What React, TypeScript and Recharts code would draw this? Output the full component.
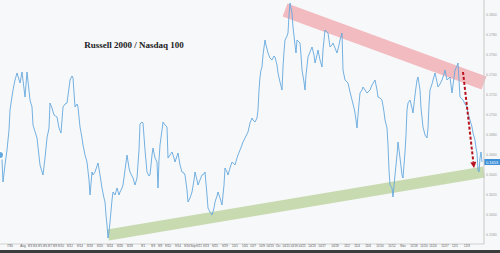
import React from "react";
import { LineChart, Line, XAxis, YAxis, ReferenceLine } from "recharts";

// trading-session index along the time axis
const sessions = [
  0, 2, 3, 5, 7, 9, 10, 13, 15, 17, 20, 22, 25, 27, 30, 32, 33, 37, 40, 43, 45, 47, 49, 50, 52, 54, 57, 59, 61, 63,
  65, 67, 69, 70, 72, 73, 75, 77, 78, 80, 82, 83, 85, 87, 89, 90, 92, 93, 95, 97, 98, 100, 102, 104, 105, 106, 107,
  108, 109, 110, 112, 113, 115, 117, 119, 120, 122, 123, 125, 127, 129, 130, 132, 133, 135, 137, 139, 140, 142, 143,
  145, 147, 149, 150, 152, 153, 155, 157, 158, 159, 160, 162, 163, 165, 167, 168, 170, 172, 174, 175, 177, 178, 180,
  182, 184, 185, 187, 188, 190, 192, 194, 195, 197, 198, 200, 202, 204, 205, 207, 208, 210, 212, 214, 215, 217, 218,
  220, 222, 224, 225, 227, 228, 230, 232, 234, 235, 237, 238, 240, 242, 243, 245, 247, 248, 250, 252, 253, 255, 257,
  258, 259, 260, 261, 262, 263, 265, 266, 268, 270, 272, 274, 275, 277, 278, 280, 282, 283, 284, 285, 287, 288, 289,
  290, 291, 292, 293, 295, 296, 297, 299, 300, 301, 302, 304, 305, 306, 308, 310, 312, 314, 315, 317, 318, 320, 322,
  323, 325, 327, 328, 330, 332, 333, 335, 337, 339, 340, 342, 343, 345, 347, 348, 350, 352, 354, 355, 356, 357, 358,
  360, 362, 363, 365, 367, 369, 370, 372, 375, 377, 378, 380, 382, 384, 385, 387, 388, 389, 390, 392, 393, 395, 397,
  398, 399, 400, 402, 403, 404, 405, 406, 407, 408, 410, 412, 413, 415, 417, 418, 420, 421, 423, 425, 427, 428, 429,
  430, 432, 433, 435, 437, 438, 440, 442, 444, 445, 447, 449, 450, 452, 453, 455, 457, 458, 459, 460, 462, 463, 465,
  467, 468, 470, 472, 473, 475, 476, 477, 478, 479, 480, 481, 482,
];

const ratio = [
  0.166, 0.1655, 0.1633, 0.165, 0.1665, 0.1685, 0.1705, 0.1725, 0.1735, 0.1742, 0.1732, 0.1743, 0.1718, 0.1743,
  0.1715, 0.1708, 0.169, 0.1677, 0.165, 0.164, 0.1657, 0.1677, 0.1687, 0.1712, 0.1707, 0.17, 0.1698, 0.1687, 0.1682,
  0.1708, 0.1711, 0.1712, 0.1727, 0.1735, 0.1739, 0.1737, 0.1708, 0.1711, 0.1708, 0.1688, 0.1677, 0.167, 0.166,
  0.1653, 0.1635, 0.162, 0.1643, 0.164, 0.1643, 0.1649, 0.1652, 0.164, 0.1627, 0.1617, 0.1613, 0.16, 0.159, 0.1577,
  0.1583, 0.1593, 0.1615, 0.1623, 0.162, 0.1627, 0.162, 0.1623, 0.1627, 0.163, 0.1645, 0.166, 0.1647, 0.1643, 0.1639,
  0.1637, 0.163, 0.1637, 0.1665, 0.1691, 0.1693, 0.1692, 0.1665, 0.1643, 0.1639, 0.164, 0.166, 0.1667, 0.1657, 0.1653,
  0.1627, 0.1655, 0.167, 0.1685, 0.1693, 0.169, 0.1688, 0.1657, 0.166, 0.1663, 0.1657, 0.1653, 0.1659, 0.1662, 0.165,
  0.1643, 0.1642, 0.164, 0.1625, 0.1613, 0.1617, 0.1623, 0.1635, 0.1643, 0.1635, 0.163, 0.1635, 0.164, 0.1641, 0.1643,
  0.162, 0.1607, 0.1603, 0.16, 0.1607, 0.1613, 0.1619, 0.1623, 0.1617, 0.161, 0.163, 0.1647, 0.1643, 0.164, 0.1647,
  0.1653, 0.1651, 0.165, 0.1657, 0.166, 0.1665, 0.167, 0.1673, 0.1677, 0.1681, 0.1683, 0.1692, 0.1697, 0.1695, 0.1693,
  0.1697, 0.1705, 0.1725, 0.1738, 0.1745, 0.1748, 0.176, 0.1775, 0.177, 0.1762, 0.1757, 0.1755, 0.1759, 0.1758, 0.175,
  0.1742, 0.1733, 0.1725, 0.1748, 0.1763, 0.1775, 0.1779, 0.1782, 0.18, 0.1812, 0.1807, 0.1802, 0.1788, 0.177, 0.1762,
  0.1775, 0.1773, 0.1772, 0.176, 0.1745, 0.1733, 0.1725, 0.174, 0.1758, 0.1763, 0.1768, 0.176, 0.1752, 0.176, 0.1765,
  0.1755, 0.1748, 0.1765, 0.1785, 0.1783, 0.1782, 0.1768, 0.177, 0.1772, 0.1767, 0.1762, 0.177, 0.1775, 0.1782, 0.1745,
  0.1735, 0.1733, 0.1732, 0.1723, 0.1715, 0.1707, 0.1702, 0.1695, 0.1687, 0.17, 0.1722, 0.1725, 0.1728, 0.1725, 0.1722,
  0.1724, 0.1725, 0.173, 0.1735, 0.1725, 0.1718, 0.1717, 0.1715, 0.1703, 0.1695, 0.1687, 0.167, 0.1645, 0.163, 0.1627,
  0.1618, 0.164, 0.166, 0.1673, 0.1665, 0.1657, 0.164, 0.1637, 0.165, 0.1663, 0.168, 0.1705, 0.1712, 0.1715, 0.1707,
  0.1702, 0.172, 0.1735, 0.1738, 0.1725, 0.1707, 0.1688, 0.168, 0.1677, 0.1687, 0.171, 0.1725, 0.1731, 0.1735, 0.1742,
  0.1733, 0.1728, 0.1731, 0.1735, 0.1741, 0.1745, 0.1735, 0.1737, 0.1738, 0.1722, 0.173, 0.1745, 0.1749, 0.1752,
  0.1735, 0.1718, 0.1716, 0.1715, 0.1711, 0.1708, 0.1702, 0.1695, 0.1688, 0.1682, 0.1675, 0.1667, 0.1662, 0.1645,
  0.1643, 0.1657, 0.1663, 0.1653,
];

const dateTicks = [
  10, 23, 30, 35, 40, 45, 50, 55, 61, 70, 80, 90, 100, 110, 120, 130, 143, 153, 160, 168, 178, 187, 193, 199, 206, 215,
  225, 235, 245, 253, 262, 270, 278, 286, 294, 302, 312, 322, 335, 347, 357, 368, 380, 392, 403, 414, 424, 433, 445,
  455, 467,
];
const dateLabels = [
  "7/30", "Aug", "8/3", "8/4", "8/5", "8/6", "8/7", "8/8", "8/10", "8/12", "8/14", "8/18", "8/20", "8/24", "8/26",
  "8/28", "9/1", "9/3", "9/8", "9/10", "9/14", "9/16", "Sep", "9/21", "9/23", "9/25", "9/29", "10/1", "10/5", "10/7",
  "10/9", "10/13", "Oct", "10/15", "10/19", "10/21", "10/23", "10/27", "10/29", "11/2", "11/4", "11/6", "11/10",
  "11/12", "Nov", "11/18", "11/20", "11/24", "11/27", "12/1", "12/3",
];

const ratioTicks = [0.158, 0.16, 0.162, 0.164, 0.166, 0.168, 0.17, 0.172, 0.174, 0.176, 0.178, 0.18];
const lastRatio = 0.1653;

// hand-drawn annotations, in data units
const resistanceBand = [{ x: 285, y: 0.1805 }, { x: 484, y: 0.1732 }];
const supportBand = [{ x: 108, y: 0.158 }, { x: 484, y: 0.1643 }];
const dropArrow = [{ x: 463, y: 0.1743 }, { x: 474, y: 0.1647 }];

const data = sessions.map((t, i) => ({ t, v: ratio[i] }));

const Arrow = (props: any) => {
  const { x1, y1, x2, y2 } = props;
  const a = Math.atan2(y2 - y1, x2 - x1);
  const len = 6;
  const w = 3;
  const bx = x2 - len * Math.cos(a);
  const by = y2 - len * Math.sin(a);
  const pts = [
    `${x2},${y2}`,
    `${bx + w * Math.sin(a)},${by - w * Math.cos(a)}`,
    `${bx - w * Math.sin(a)},${by + w * Math.cos(a)}`,
  ].join(" ");
  return (
    <g>
      <line x1={x1} y1={y1} x2={bx} y2={by} stroke="#b8121c" strokeWidth={2} strokeDasharray="3 2" />
      <polygon points={pts} fill="#b8121c" />
    </g>
  );
};

const PriceTag = (props: any) => {
  const { viewBox } = props;
  const x = viewBox.x + viewBox.width;
  const y = viewBox.y;
  return (
    <g>
      <rect x={x} y={y - 3} width={16} height={6} fill="#3c8fd8" />
      <text x={x + 8} y={y + 1.5} fontSize={4} fill="#fff" textAnchor="middle" fontFamily="Liberation Sans">
        {lastRatio.toFixed(4)}
      </text>
    </g>
  );
};

export default function App() {
  return (
    <div style={{ position: "fixed", left: 0, top: 0, width: 500, height: 253, background: "#f7f8fa" }}>
      <LineChart width={500} height={250} data={data} margin={{ top: 0, right: 0, bottom: 0, left: 0 }}>
        <XAxis
          type="number"
          dataKey="t"
          domain={[0, 484]}
          ticks={dateTicks}
          interval={0}
          tickFormatter={(t) => dateLabels[dateTicks.indexOf(t)] ?? ""}
          height={6}
          tickSize={1}
          tickMargin={0}
          tick={{ fontSize: 3, fill: "#555", fontFamily: "Liberation Sans" }}
          tickLine={{ stroke: "#ccc" }}
          axisLine={{ stroke: "#d0d0d0" }}
        />
        <YAxis
          orientation="right"
          domain={[0.1571, 0.1815]}
          ticks={ratioTicks}
          allowDataOverflow
          width={16}
          tickSize={2}
          tickMargin={0}
          tickLine={false}
          tickFormatter={(v) => v.toFixed(4)}
          tick={{ fontSize: 3.5, fill: "#999", fontFamily: "Liberation Sans" }}
          axisLine={{ stroke: "#c8c8c8" }}
        />
        <ReferenceLine
          segment={resistanceBand}
          stroke="#f09aa2"
          strokeOpacity={0.65}
          strokeWidth={14}
          ifOverflow="visible"
        />
        <ReferenceLine
          segment={supportBand}
          stroke="#b3cd90"
          strokeOpacity={0.7}
          strokeWidth={11}
          ifOverflow="visible"
        />
        <Line
          type="linear"
          dataKey="v"
          stroke="#64a8de"
          strokeWidth={0.9}
          dot={false}
          isAnimationActive={false}
        />
        <ReferenceLine segment={dropArrow} shape={Arrow} ifOverflow="visible" />
        <ReferenceLine y={lastRatio} stroke="none" label={<PriceTag />} />
        <text x={134} y={48} textAnchor="middle" fontSize={9} fontWeight="bold" fill="#222" fontFamily="Liberation Serif">
          Russell 2000 / Nasdaq 100
        </text>
      </LineChart>
      <div style={{ position: "absolute", left: 0, top: 250, width: 500, height: 3, background: "#3b3b3b" }} />
    </div>
  );
}
